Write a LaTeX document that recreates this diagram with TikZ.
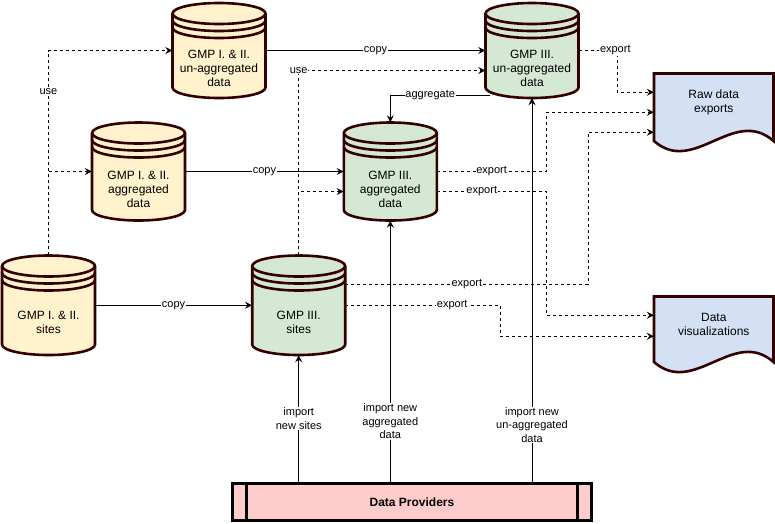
\documentclass[tikz,border=0pt]{standalone}
\usepackage{fontspec}
\setmainfont{Liberation Sans}
\usetikzlibrary{arrows.meta,calc}
\definecolor{cylborder}{HTML}{330000}
\definecolor{oldfill}{HTML}{FFF2CC}
\definecolor{newfill}{HTML}{D5E8D4}
\definecolor{docfill}{HTML}{D4E1F5}
\definecolor{provfill}{HTML}{FFCCCC}
\tikzset{
  cylline/.style={draw=cylborder, line width=2.6pt, line join=round},
  docline/.style={draw=cylborder, line width=2.6pt, line join=miter},
  celltext/.style={align=center, inner sep=0pt, font=\fontsize{12}{14}\selectfont},
  conn/.style={line width=0.9pt, -{Stealth[length=7pt,width=7pt,inset=2.5pt]}},
  dconn/.style={conn, dash pattern=on 3pt off 3pt},
  lab/.style={fill=white, inner sep=0.6pt, align=center, font=\fontsize{11}{13.5}\selectfont},
}
\newcommand\dbcyl[6]{%
  \pgfmathsetmacro\cylXl{#2-46.5}%
  \pgfmathsetmacro\cylXr{#2+46.5}%
  \pgfmathsetmacro\cylYt{#3+10.5}%
  \pgfmathsetmacro\cylYb{#4-10.5}%
  \pgfmathsetmacro\cylYm{(#3+#4)/2}%
  \pgfmathsetmacro\cylH{#4-#3}%
  \pgfmathsetmacro\cylYtx{(#3+35+#4)/2}%
  \filldraw[cylline, fill=#5] (\cylXl,\cylYt) -- (\cylXl,\cylYb)
     .. controls +(0,5.8) and +(-25.7,0) .. (#2,#4)
     .. controls +(25.7,0) and +(0,5.8) .. (\cylXr,\cylYb)
     -- (\cylXr,\cylYt)
     .. controls +(0,-5.8) and +(25.7,0) .. (#2,#3)
     .. controls +(-25.7,0) and +(0,-5.8) .. (\cylXl,\cylYt) -- cycle;
  \foreach \cylD in {0,7,14}{%
    \draw[cylline] (\cylXl,\cylYt+\cylD)
      .. controls +(0,5.8) and +(-25.7,0) .. (#2,\cylYt+\cylD+10.5)
      .. controls +(25.7,0) and +(0,5.8) .. (\cylXr,\cylYt+\cylD);
  }%
  \node[inner sep=0pt, minimum width=93pt, minimum height=\cylH pt] (#1) at (#2,\cylYm) {};
  \node[celltext] (#1t) at (#2,\cylYtx) {#6};
}
\newcommand\docshape[6]{%
  \pgfmathsetmacro\docW{(#4-#2)/3}%
  \pgfmathsetmacro\docMx{(#2+#4)/2}%
  \pgfmathsetmacro\docMy{(#3+#5)/2}%
  \pgfmathsetmacro\docHt{#5-#3}%
  \pgfmathsetmacro\docWd{#4-#2}%
  \filldraw[docline, fill=docfill] (#2,#3) -- (#4,#3) -- (#4,#5)
     .. controls +(-\docW,-35) and +(\docW,35) .. (#2,#5) -- cycle;
  \node[inner sep=0pt, minimum width=\docWd pt, minimum height=\docHt pt] (#1) at (\docMx,\docMy) {};
  \node[celltext] (#1t) at (\docMx,\docMy-5) {#6};
}
\begin{document}
\begin{tikzpicture}[x=1pt,y=-1pt]
\useasboundingbox (0,0) rectangle (775,523);

\dbcyl{c1}{219}{3}{98}{oldfill}{GMP I. \& II.\\un-aggregated\\data}
\dbcyl{c2}{138.5}{122.5}{220.5}{oldfill}{GMP I. \& II.\\aggregated\\data}
\dbcyl{c3}{390.3}{122.5}{220.5}{newfill}{GMP III.\\aggregated\\data}
\dbcyl{c4}{532}{3}{98}{newfill}{GMP III.\\un-aggregated\\data}
\dbcyl{c5}{48.5}{255.5}{355}{oldfill}{GMP I. \& II.\\sites}
\dbcyl{c6}{298.7}{255.5}{355}{newfill}{GMP III.\\sites}

\docshape{raw}{654}{73.5}{773.5}{141}{Raw data\\exports}
\docshape{viz}{654}{296.5}{773.5}{362}{Data\\visualizations}

\node[draw=black, line width=3pt, fill=provfill, minimum width=359pt, minimum height=37.5pt,
      inner sep=0pt, font=\fontsize{12}{14}\selectfont\bfseries] (dp) at (412,501.75) {Data Providers};
\draw[line width=3pt] ([xshift=15.5pt]dp.north west) -- ([xshift=15.5pt]dp.south west);
\draw[line width=3pt] ([xshift=-15.5pt]dp.north east) -- ([xshift=-15.5pt]dp.south east);

% use
\draw[dconn] (c5.north) |- node[lab,pos=0.4]{use} (c1.west);
\draw[dconn] (c5.north) |- (c2.west);
\draw[dconn] (c6.north) |- node[lab,pos=0.5]{use} ([yshift=-20pt]c4.west);
\draw[dconn] (c6.north) |- ([yshift=-20pt]c3.west);

% copy
\draw[conn] (c1.east) -- node[lab,midway]{copy} (c4.west);
\draw[conn] (c2.east) -- node[lab,midway]{copy} (c3.west);
\draw[conn] (c5.east) -- node[lab,midway]{copy} (c6.west);

% aggregate
\draw[conn] ([xshift=-42pt,yshift=3pt]c4.south) -| node[lab,pos=0.3]{aggregate} (c3.north);

% export
\draw[dconn] (c4.east) -- node[lab,pos=0.95]{export} ++(38.5,0) |- ([yshift=15pt]raw.west);
\draw[dconn] (c3.east) -- node[lab,midway]{export} ++(109.2,0) |- ([yshift=-5pt]raw.west);
\draw[dconn] ([yshift=-20pt]c3.east) -- node[lab,pos=0.41]{export} ++(109.2,0) |- ([yshift=14pt]viz.west);
\draw[dconn] ([yshift=21pt]c6.east) -- node[lab,midway]{export} ++(242.8,0) |- ([yshift=-25pt]raw.west);
\draw[dconn] (c6.east) -- node[lab,pos=0.69]{export} ++(154.8,0) |- ([yshift=-7pt]viz.west);

% import
\draw[conn] (c6.south |- dp.north) -- node[lab,midway]{import\\new sites} (c6.south);
\draw[conn] (c3.south |- dp.north) -- node[lab,pos=0.23]{import new\\aggregated\\data} (c3.south);
\draw[conn] (c4.south |- dp.north) -- node[lab,pos=0.148]{import new\\un-aggregated\\data} (c4.south);
\end{tikzpicture}
\end{document}
